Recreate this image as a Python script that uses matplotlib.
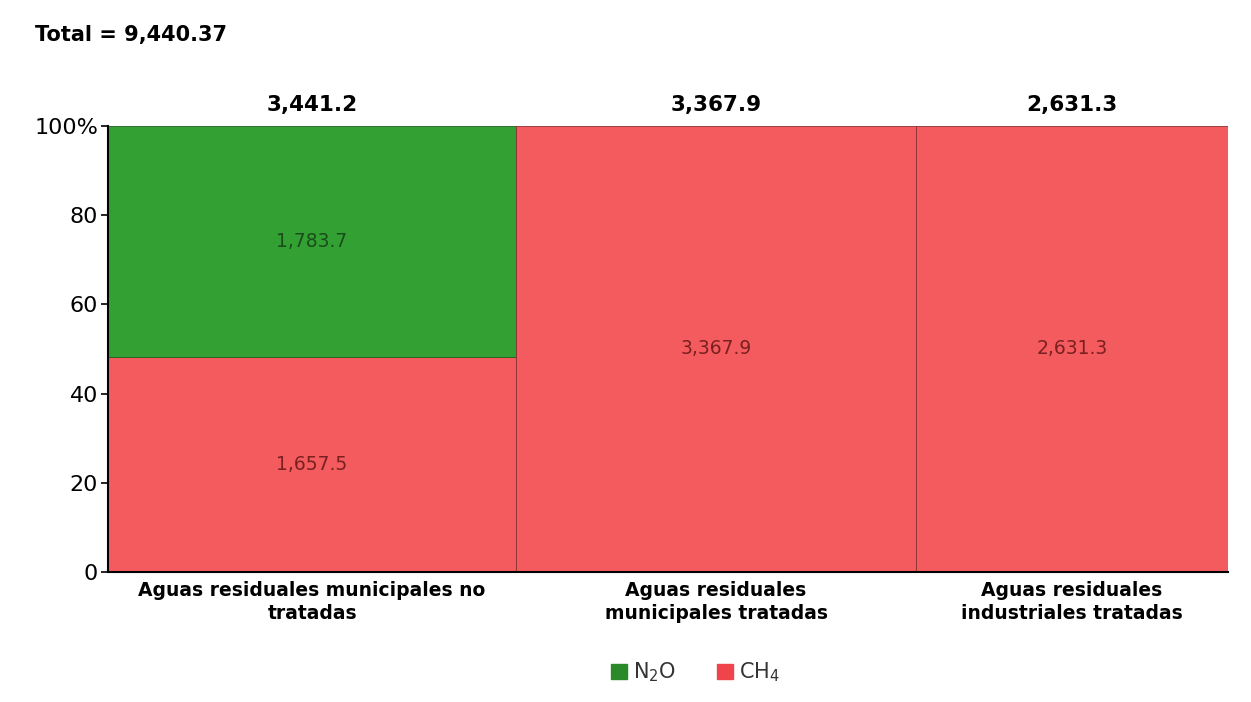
import matplotlib
matplotlib.use('Agg')
import matplotlib.pyplot as plt
from matplotlib.patches import Patch

# data
categories = ['Aguas residuales municipales no\ntratadas',
              'Aguas residuales\nmunicipales tratadas',
              'Aguas residuales\nindustriales tratadas']
ch4 = [1657.5, 3367.9, 2631.3]
n2o = [1783.7, 0.0, 0.0]
grand_total = 9440.37

green = '#33a033'
red = '#f45b5f'

totals = [a + b for a, b in zip(ch4, n2o)]
fig = plt.figure(figsize=(12.51, 7.02), dpi=100)
ax = fig.add_axes([0.0863, 0.1852, 0.8953, 0.6353])

x = 0
for i, cat in enumerate(categories):
    w = totals[i]
    p_ch4 = ch4[i] / totals[i] * 100
    p_n2o = n2o[i] / totals[i] * 100
    ax.bar(x, p_ch4, width=w, align='edge', color=red, edgecolor='#8a3030', linewidth=0.6)
    ax.text(x + w / 2, p_ch4 / 2, f'{ch4[i]:,.1f}', ha='center', va='center',
            fontsize=13.5, color='#7a2020')
    if n2o[i] > 0:
        ax.bar(x, p_n2o, bottom=p_ch4, width=w, align='edge', color=green,
               edgecolor='#1f5f1f', linewidth=0.6)
        ax.text(x + w / 2, p_ch4 + p_n2o / 2, f'{n2o[i]:,.1f}', ha='center',
                va='center', fontsize=13.5, color='#1a4d1a')
    ax.text(x + w / 2, 102.5, f'{totals[i]:,.1f}', ha='center', va='bottom',
            fontsize=15.5, fontweight='bold')
    ax.text(x + w / 2, -2, cat, ha='center', va='top', fontsize=13.5,
            fontweight='bold', linespacing=1.25)
    x += w

ax.set_xlim(0, sum(totals))
ax.set_ylim(0, 100)
ax.set_xticks([])
ax.set_yticks([0, 20, 40, 60, 80, 100])
ax.set_yticklabels(['0', '20', '40', '60', '80', '100%'], fontsize=16)
ax.tick_params(axis='y', length=5, width=1.2, pad=2)
for s in ['top', 'right']:
    ax.spines[s].set_visible(False)
ax.spines['left'].set_linewidth(1.5)
ax.spines['bottom'].set_linewidth(1.5)

fig.text(0.028, 0.95, f'Total = {grand_total:,.2f}', fontsize=15, fontweight='bold',
         va='center')

handles = [Patch(color='#2a8a2a', label='N$_2$O'), Patch(color='#f0444c', label='CH$_4$')]
fig.legend(handles=handles, loc='center', bbox_to_anchor=(0.556, 0.042), ncol=2,
           frameon=False, fontsize=15, handlelength=0.75, handleheight=0.75,
           handletextpad=0.3, columnspacing=2.0, labelcolor='#333333')

fig.savefig('out.png', dpi=100)
